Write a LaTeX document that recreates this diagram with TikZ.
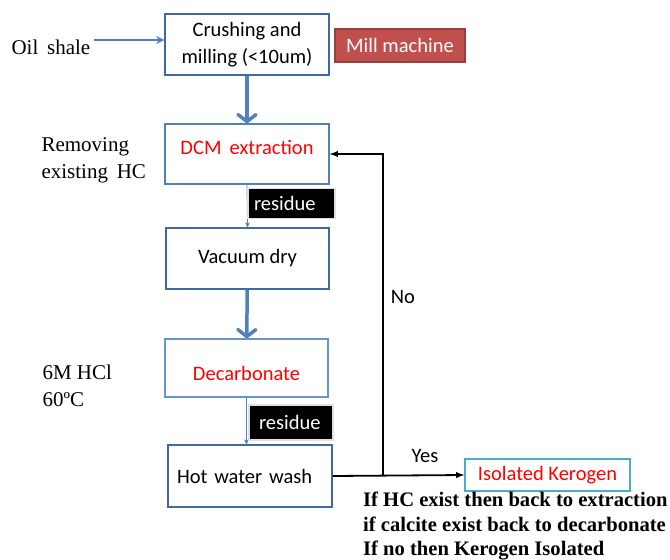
\documentclass[tikz,border=0pt]{standalone}
\usepackage{fontspec}
\setmainfont{Carlito}
\newfontfamily\tms{Liberation Serif}
\usetikzlibrary{arrows.meta}
\definecolor{boxblue}{RGB}{65,105,160}
\definecolor{lineblue}{RGB}{79,129,189}
\definecolor{millred}{RGB}{192,80,77}
\definecolor{kerocyan}{RGB}{75,172,198}
\begin{document}
\begin{tikzpicture}[x=1pt,y=-1pt,>=latex,
    font=\fontsize{20.5}{27}\selectfont,
    stepbox/.style={draw=boxblue, line width=1.4pt, minimum width=164pt, minimum height=61pt, align=center},
    resbox/.style={fill=black, draw=black!12, line width=1.2pt, text=white, minimum height=30pt, align=left},
    side/.style={font=\tms\fontsize{21}{27}\selectfont, align=left},
    bigflow/.style={draw=lineblue, line width=3.5pt, -{Straight Barb[length=7pt,width=18pt,line cap=round,line join=round]}},
    thinflow/.style={draw=lineblue, line width=0.8pt, -{Stealth[length=5pt,width=5pt]}},
    back/.style={draw=black, line width=1.8pt, ->}]
\useasboundingbox (0,0) rectangle (670,560);

\node[stepbox] (crush) at (247,44.5) {Crushing and\\milling (<10um)};
\node[fill=millred, draw=millred!80!black, line width=1.2pt, text=white, minimum width=130pt, minimum height=33pt] (mill) at (400,45.5) {Mill machine};
\node[stepbox, draw=lineblue, minimum height=60pt, text depth=13pt, text=red] (dcm) at (247,154) {DCM\, extraction};
\node[stepbox, minimum width=163pt] (dry) at (247.5,258.5) {Vacuum dry};
\node[stepbox, draw=lineblue!85!white, minimum width=163pt, minimum height=58pt, text height=25pt, text=red] (decarb) at (246.5,368) {Decarbonate};
\node[stepbox, text width=146pt, inner xsep=9pt, align=left, minimum height=62pt] (wash) at (250,476) {Hot water wash};
\node[draw=kerocyan, line width=1.4pt, text=red, minimum width=165pt, minimum height=32pt] (kero) at (547.5,475) {Isolated Kerogen};

\node[side, anchor=west] (oil) at (8,47) {Oil\, shale};
\node[side, anchor=west] (hc) at (38,160) {Removing\\existing\, HC};
\node[side, anchor=west] (acid) at (39,386) {6M HCl\\60ºC};

\draw[lineblue, line width=1.8pt, -{Stealth[length=8pt,width=8pt]}] ([yshift=7pt]oil.east) -- ([yshift=7pt]oil.east -| crush.west);
\draw[bigflow] (crush) -- (dcm);
\draw[bigflow] (dry) -- (decarb);
\draw[thinflow] (dcm.south) -- (dry.north);
\draw[thinflow] (decarb.south) -- (wash.north -| decarb.south);

\node[resbox, text width=75pt, inner xsep=6pt] (res1) at (291.5,203.5) {residue};
\node[resbox, text width=64pt, inner xsep=10pt, minimum height=35pt] (res2) at (291,422.5) {residue};

\coordinate (fork) at (383,476);
\draw[back] (wash.east) -- (kero.west);
\draw[back] (fork) |- (dcm.east);
\node (no) at (403,297) {No};
\node (yes) at (425,456) {Yes};

\node[anchor=north west, align=left, inner sep=0pt, font=\tms\bfseries\fontsize{20.6}{24.5}\selectfont] (rule) at (363,492)
  {If HC exist then back to extraction\\if calcite exist back to decarbonate\\If no then Kerogen Isolated};
\end{tikzpicture}
\end{document}
